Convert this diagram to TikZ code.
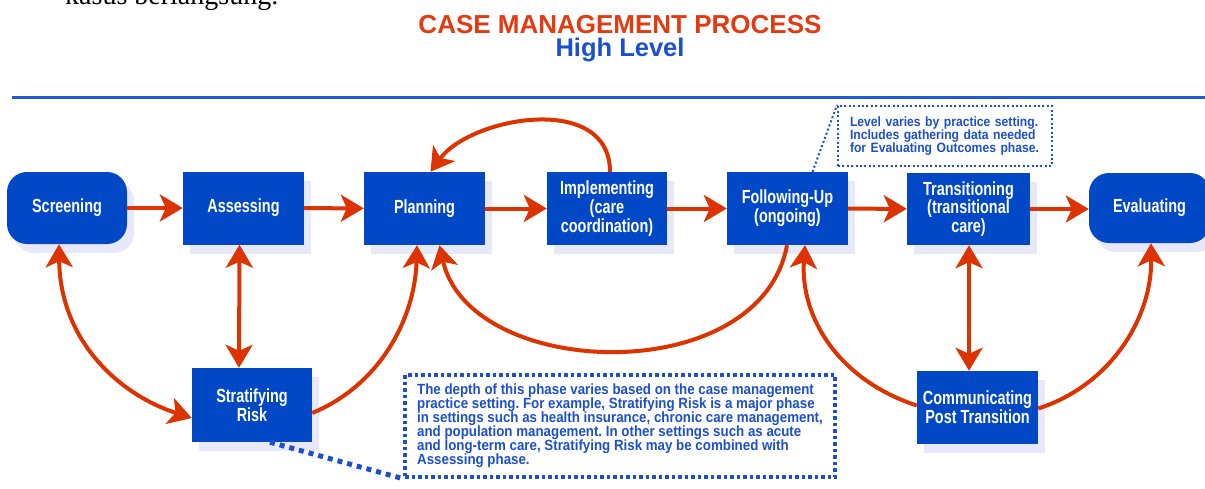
\documentclass[tikz,border=0pt]{standalone}
\usepackage{fontspec}
\setmainfont{Liberation Serif}
\newfontfamily\boxfont[FakeStretch=0.76]{Liberation Sans}
\newfontfamily\notefont[FakeStretch=0.9]{Liberation Sans}
\newfontfamily\titlefont{Liberation Sans}
\usetikzlibrary{arrows.meta,shadows,calc}
\definecolor{boxblue}{HTML}{0048C6}
\definecolor{arrowred}{HTML}{DD3300}
\definecolor{titlered}{HTML}{E43A12}
\definecolor{titleblue}{HTML}{1A4FD0}
\definecolor{lineblue}{HTML}{1F5BD9}
\definecolor{noteblue}{HTML}{1C4FCC}
\definecolor{glow}{HTML}{E8E8FB}
\tikzset{
  box/.style={fill=boxblue, text=white, font=\boxfont\bfseries\fontsize{19}{17.5}\selectfont,
    align=center, minimum width=121pt, minimum height=73pt, inner sep=0pt,
    drop shadow={shadow xshift=7pt, shadow yshift=-9pt, fill=glow, opacity=1}},
  rbox/.style={box, rounded corners=20pt},
  arr/.style={draw=arrowred, line width=4pt, -{Stealth[length=23pt,width=27pt,inset=6pt]}},
  darr/.style={draw=arrowred, line width=4pt, {Stealth[length=23pt,width=27pt,inset=6pt]}-{Stealth[length=23pt,width=27pt,inset=6pt]}},
  smallnote/.style={draw=noteblue, line width=2pt, dash pattern=on 2pt off 2.4pt, text=noteblue,
    font=\notefont\bfseries\fontsize{13.5}{12.7}\selectfont, align=left, inner xsep=12pt, inner ysep=0pt,
    text width=190pt, minimum height=60pt},
  bignote/.style={draw=noteblue, line width=3.5pt, dash pattern=on 3.5pt off 3pt, text=noteblue,
    font=\notefont\bfseries\fontsize{14.8}{14}\selectfont, align=left, inner sep=0pt,
    minimum width=430pt, minimum height=102pt},
  smalldot/.style={draw=noteblue, line width=2pt, dash pattern=on 2pt off 2.4pt},
  bigdot/.style={draw=noteblue, line width=5pt, dash pattern=on 5pt off 5pt}
}
\frenchspacing
\begin{document}
\begin{tikzpicture}[x=1pt,y=-1pt]
\useasboundingbox (0,0) rectangle (1205,488);
% partial text from surrounding page
\node[anchor=base west, inner sep=0pt, font=\fontsize{28}{30}\selectfont] (kas) at (65,4) {kasus berlangsung.};
% title
\node[anchor=base, inner sep=0pt, text depth=0pt, text=titlered, font=\titlefont\bfseries\fontsize{26}{27}\selectfont] (t1) at (620,33) {CASE MANAGEMENT PROCESS};
\node[anchor=base, inner sep=0pt, text height=18pt, text=titleblue, font=\titlefont\bfseries\fontsize{25.5}{27}\selectfont] (t2) at (620,56) {High Level};
\draw[lineblue, line width=3pt] (12,97) -- (1205,97);
% boxes
\node[rbox, minimum width=120pt, minimum height=72pt] (scr) at (67,208) {Screening};
\node[box] (ass) at (243.5,208) {Assessing};
\node[box] (pla) at (424.5,208.5) {Planning};
\node[box, minimum width=120pt] (imp) at (607,208.5) {Implementing\\(care\\coordination)};
\node[box] (fol) at (787.5,208.5) {Following-Up\\(ongoing)};
\node[box, minimum width=123pt, minimum height=72pt] (tra) at (968.5,209) {Transitioning\\(transitional\\care)};
\node[rbox, minimum height=70pt] (eva) at (1149.5,208) {Evaluating};
\node[box, minimum width=120pt, minimum height=74pt] (str) at (252,405) {Stratifying\\Risk};
\node[box] (com) at (977.5,407.5) {Communicating\\Post Transition};
% notes
\node[smallnote] (n1) at (945,136) {Level varies by practice setting.\\Includes gathering data needed\\for Evaluating Outcomes phase.};
\node[bignote] (n2) at (620,426) {The depth of this phase varies based on the case management\\practice setting. For example, Stratifying Risk is a major phase\\in settings such as health insurance, chronic care management,\\and population management. In other settings such as acute\\and long-term care, Stratifying Risk may be combined with\\Assessing phase.};
\draw[smalldot] ($(fol.north)+(25,0)$) -- (n1.north west);
\draw[bigdot] ($(str.south)+(18,0)$) -- (n2.south west);
% straight arrows
\draw[arr] (scr) -- (ass);
\draw[arr] (ass) -- (pla);
\draw[arr] (pla) -- (imp);
\draw[arr] (imp) -- (fol);
\draw[arr] (fol) -- (tra);
\draw[arr] (tra.east) -- (tra.east -| eva.west);
\draw[darr] ($(ass.south)+(-4,0)$) -- ($(str.north)+(-13,0)$);
\draw[darr] ($(tra.south)+(0.5,0)$) -- ($(com.north)+(-8.5,0)$);
% curved arrows
\draw[arr] ($(imp.north)+(3,0)$) .. controls +(0,-80) and +(40,-55) .. ($(pla.north)+(6,0)$);
\draw[arr] ($(fol.south)+(-0.5,0)$) .. controls +(-27,145) and +(30,135) .. ($(pla.south)+(15,0)$);
\draw[arr] ($(str.east)+(0,8)$) .. controls +(68,-28) and +(-2,73) .. ($(pla.south)+(-7.5,0)$);
\draw[darr] ($(scr.south)+(-8,0)$) .. controls +(1,97) and +(-72,-23) .. ($(str.west)+(0,13)$);
\draw[arr] ($(com.west)+(0,-2)$) .. controls +(-77,-25) and +(-5,73) .. ($(fol.south)+(17.5,0)$);
\draw[arr] ($(com.east)+(0,1)$) .. controls +(72,-23) and +(1,75) .. ($(eva.south)+(1.5,0)$);
\end{tikzpicture}
\end{document}
